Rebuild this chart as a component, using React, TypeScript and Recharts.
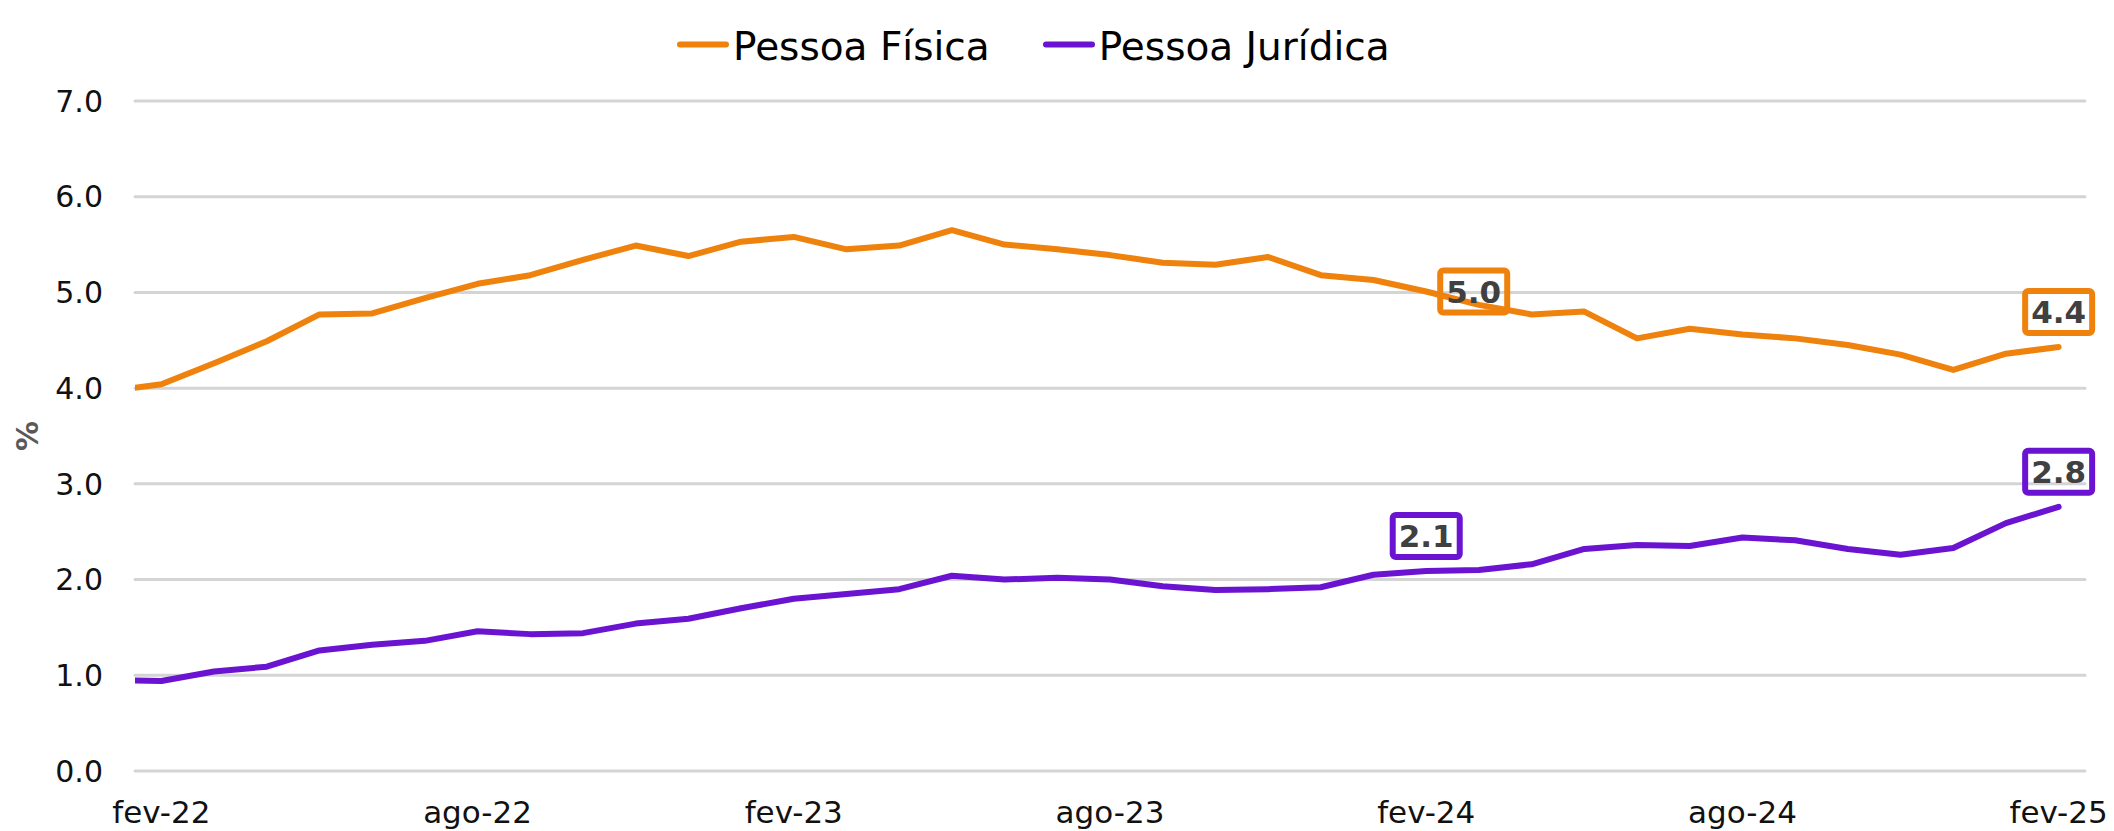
import { LineChart, Line, XAxis, YAxis, CartesianGrid, Legend, LabelList } from 'recharts';

const FONT = '"DejaVu Sans", Verdana, sans-serif';

// jan-22 sits just left of the plot and is clipped, like the original
const MONTHS = [
  'jan-22', 'fev-22', 'mar-22', 'abr-22', 'mai-22', 'jun-22', 'jul-22', 'ago-22', 'set-22', 'out-22', 'nov-22', 'dez-22',
  'jan-23', 'fev-23', 'mar-23', 'abr-23', 'mai-23', 'jun-23', 'jul-23', 'ago-23', 'set-23', 'out-23', 'nov-23', 'dez-23',
  'jan-24', 'fev-24', 'mar-24', 'abr-24', 'mai-24', 'jun-24', 'jul-24', 'ago-24', 'set-24', 'out-24', 'nov-24', 'dez-24',
  'jan-25', 'fev-25',
];

const PESSOA_FISICA = [
  3.97, 4.04, 4.26, 4.49, 4.77, 4.78, 4.94, 5.09, 5.18, 5.34, 5.49, 5.38, 5.53,
  5.58, 5.45, 5.49, 5.65, 5.5, 5.45, 5.39, 5.31, 5.29, 5.37, 5.18, 5.13,
  5.01, 4.87, 4.77, 4.8, 4.52, 4.62, 4.56, 4.52, 4.45, 4.35, 4.19, 4.36, 4.43,
];

const PESSOA_JURIDICA = [
  0.95, 0.94, 1.04, 1.09, 1.26, 1.32, 1.36, 1.46, 1.43, 1.44, 1.54, 1.59, 1.7,
  1.8, 1.85, 1.9, 2.04, 2.0, 2.02, 2.0, 1.93, 1.89, 1.9, 1.92, 2.05,
  2.09, 2.1, 2.16, 2.32, 2.36, 2.35, 2.44, 2.41, 2.32, 2.26, 2.33, 2.59, 2.76,
];

const Y_TICKS = [0, 1, 2, 3, 4, 5, 6, 7];
const X_TICK_LABELS = ['fev-22', 'ago-22', 'fev-23', 'ago-23', 'fev-24', 'ago-24', 'fev-25'];

// boxed value callouts: month -> where the box sits
const PF_CALLOUTS: Record<string, string> = { 'fev-24': 'right', 'fev-25': 'top' };
const PJ_CALLOUTS: Record<string, string> = { 'fev-24': 'top', 'fev-25': 'top' };

const ORANGE = '#EE820C';
const PURPLE = '#6A14D2';

const data = MONTHS.map((m, i) => ({
  m,
  t: i - 1,
  pf: PESSOA_FISICA[i],
  pj: PESSOA_JURIDICA[i],
}));

const xTicks = X_TICK_LABELS.map((l) => MONTHS.indexOf(l) - 1);

function callout(color: string, spots: Record<string, string>) {
  return (props: any) => {
    const { value, index } = props;
    const where = spots[MONTHS[index]];
    if (!where || value == null) return null;
    const vb = props.viewBox || {};
    const x = vb.x ?? props.x;
    const y = vb.y ?? props.y;
    const w = 67;
    const h = 42;
    const cx = where === 'right' ? x + 11 + 36.5 : x;
    const cy = where === 'right' ? y : y - 11 - 24;
    return (
      <g>
        <rect x={cx - w / 2} y={cy - h / 2} width={w} height={h} rx={3} fill="none" stroke={color} strokeWidth={6} />
        <text
          x={cx}
          y={cy}
          dy="0.36em"
          textAnchor="middle"
          fontFamily={FONT}
          fontSize={31}
          fontWeight="bold"
          fill="#404040"
        >
          {Number(value).toFixed(1)}
        </text>
      </g>
    );
  };
}

const renderLegend = (props: any) => (
  <div style={{ display: 'flex', fontSize: 39, lineHeight: '40px', color: '#000', fontFamily: FONT, whiteSpace: 'nowrap' }}>
    {(props.payload || []).map((e: any, i: number) => (
      <div key={e.value} style={{ display: 'flex', alignItems: 'flex-start', marginLeft: i ? 53 : 0 }}>
        <svg width={52} height={40} style={{ display: 'block' }}>
          <line x1={3} y1={17.5} x2={49} y2={17.5} stroke={e.color} strokeWidth={6} strokeLinecap="round" />
        </svg>
        <span style={{ marginLeft: 4 }}>{e.value}</span>
      </div>
    ))}
  </div>
);

const renderPct = (props: any) => {
  const vb = props.viewBox;
  return (
    <text
      x={vb.x + 27}
      y={vb.y + vb.height / 2}
      transform={`rotate(-90, ${vb.x + 27}, ${vb.y + vb.height / 2})`}
      textAnchor="middle"
      dominantBaseline="central"
      fontFamily={FONT}
      fontSize={30}
      fontWeight="bold"
      fill="#595959"
    >
      %
    </text>
  );
};

export default function App() {
  return (
    <div style={{ fontFamily: FONT }}>
      <style>{'body { margin: 0; background: #fff; }'}</style>
      <LineChart width={2114} height={831} data={data} margin={{ top: 101, right: 29, left: 0, bottom: 0 }}>
        <CartesianGrid vertical={false} stroke="#D4D4D4" strokeWidth={3} strokeLinecap="round" />
        <XAxis
          dataKey="t"
          type="number"
          domain={[-0.5, 36.5]}
          allowDataOverflow
          ticks={xTicks}
          interval={0}
          tickFormatter={(v) => MONTHS[v + 1]}
          axisLine={false}
          tickLine={false}
          tickSize={0}
          tickMargin={30}
          height={60}
          tick={{ fontSize: 31, fill: '#111', fontFamily: FONT }}
        />
        <YAxis
          domain={[0, 7]}
          ticks={Y_TICKS}
          interval={0}
          tickFormatter={(v) => Number(v).toFixed(1)}
          axisLine={false}
          tickLine={false}
          tickSize={0}
          tickMargin={32}
          width={135}
          tick={{ fontSize: 30, fill: '#111', fontFamily: FONT }}
          label={renderPct}
        />
        <Legend
          verticalAlign="middle"
          align="center"
          layout="horizontal"
          content={renderLegend}
          wrapperStyle={{ top: 27, left: 677, width: 'auto' }}
        />
        <Line
          name="Pessoa Física"
          dataKey="pf"
          stroke={ORANGE}
          strokeWidth={6}
          strokeLinejoin="round"
          strokeLinecap="round"
          dot={false}
          activeDot={false}
          isAnimationActive={false}
        >
          <LabelList dataKey="pf" content={callout(ORANGE, PF_CALLOUTS)} />
        </Line>
        <Line
          name="Pessoa Jurídica"
          dataKey="pj"
          stroke={PURPLE}
          strokeWidth={6}
          strokeLinejoin="round"
          strokeLinecap="round"
          dot={false}
          activeDot={false}
          isAnimationActive={false}
        >
          <LabelList dataKey="pj" content={callout(PURPLE, PJ_CALLOUTS)} />
        </Line>
      </LineChart>
    </div>
  );
}
